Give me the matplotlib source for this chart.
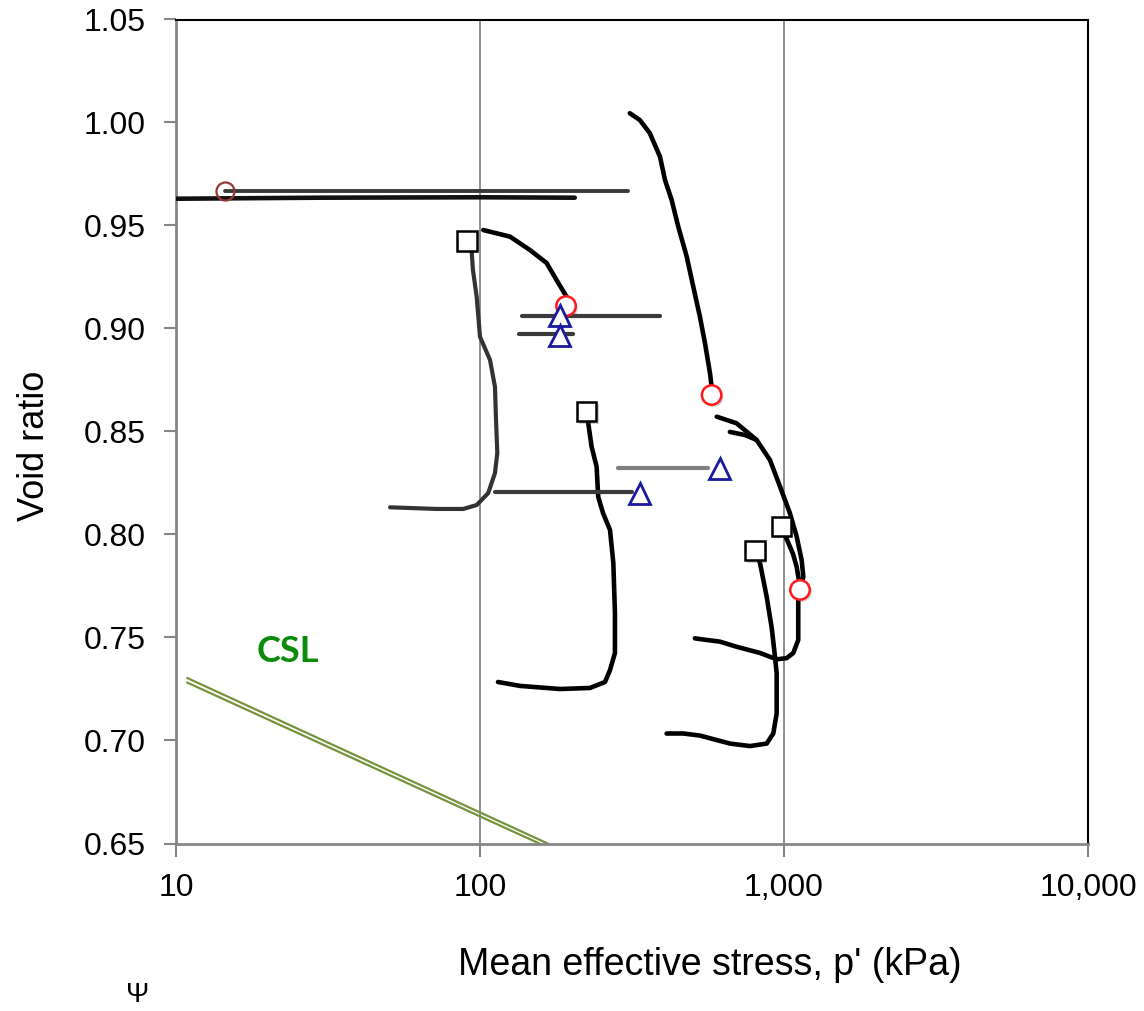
import numpy as np
import matplotlib
matplotlib.use("Agg")
import matplotlib.pyplot as plt
import matplotlib.patheffects as pe
from matplotlib.ticker import FixedLocator, FuncFormatter

plt.rcParams['font.family'] = ['Liberation Sans', 'DejaVu Sans']

# isotropic / drained tests, p' (kPa) vs void ratio
a1_p = [10, 30, 100, 205]
a1_e = [0.9630, 0.9635, 0.9637, 0.9635]
a2_p = [14.5, 307]
a2_e = [0.9667, 0.9667]

b_p = [90.6, 93.9, 94.8, 97.5, 100, 107.9, 112, 112.9, 114, 112, 106.4, 97.5, 88.1, 72.1, 50.6]
b_e = [0.9425, 0.9373, 0.9284, 0.9154, 0.896, 0.8847, 0.8717, 0.8556, 0.8396, 0.8298,
       0.8201, 0.8143, 0.8124, 0.8124, 0.8132]

c_p = [102.5, 125.5, 146, 165.6, 178.6, 192.7, 191.9]
c_e = [0.9478, 0.9446, 0.9381, 0.9318, 0.9235, 0.9154, 0.9109]

d_p = [224.4, 227, 232.9, 241.9, 244.8, 253.9, 267.7, 274.5, 277.9, 277.9, 267.7, 257.8,
       230, 183.3, 135.4, 114.6]
d_e = [0.8596, 0.8541, 0.8426, 0.8329, 0.8183, 0.8104, 0.8022, 0.7862, 0.7619, 0.7425,
       0.7342, 0.7284, 0.7255, 0.725, 0.7265, 0.7284]

e_p = [311, 335.6, 362, 390.9, 406, 427, 449, 478.6, 503, 529, 549.8, 571, 578, 578]
e_e = [1.0045, 1.0012, 0.9948, 0.9834, 0.9721, 0.9624, 0.9494, 0.9349, 0.9203, 0.9057,
       0.8928, 0.8782, 0.8717, 0.8677]

f1_p = [600.6, 698, 812.6, 899, 970.6, 1046, 1101, 1143, 1157.6, 1129, 1114, 1114, 1073,
        1020.7, 946, 833.6, 698.6, 615, 556.9, 509]
f1_e = [0.8572, 0.854, 0.8459, 0.8362, 0.8232, 0.8103, 0.7989, 0.7876, 0.7795, 0.7731,
        0.7682, 0.7488, 0.7425, 0.74, 0.7394, 0.7425, 0.7455, 0.748, 0.7488, 0.7496]
f2_p = [663.7, 744, 812.6]
f2_e = [0.8498, 0.8483, 0.8459]

g_p = [982.6, 1020.7, 1070.5, 1101, 1120]
g_e = [0.8038, 0.7978, 0.7906, 0.7842, 0.7777]

h_p = [803, 833.6, 877, 911, 934, 946, 946, 922, 877, 773, 664.5, 529, 466.6, 411]
h_e = [0.7921, 0.7862, 0.7698, 0.7547, 0.7407, 0.7325, 0.7131, 0.7034, 0.6985, 0.6973,
       0.6985, 0.7024, 0.7034, 0.7034]

# undrained stress paths (constant void ratio)
u1_p = [137, 390]
u1_e = [0.9062, 0.9062]
u2_p = [134.6, 202]
u2_e = [0.8973, 0.8973]
u3_p = [112, 316]
u3_e = [0.8206, 0.8206]
u4_p = [285, 563.6]
u4_e = [0.8321, 0.8321]

# markers
sq_p = [90.6, 224.4, 982.6, 803]
sq_e = [0.9425, 0.8596, 0.8038, 0.7921]
ci_p = [191.9, 578, 1129]
ci_e = [0.9109, 0.8677, 0.7731]
ci0_p = [14.5]
ci0_e = [0.9667]
tri_p = [183, 183, 335.6, 615]
tri_e = [0.9064, 0.8966, 0.82, 0.8321]

# critical state line (two bounds)
csl1_p = [10.9, 167]
csl1_e = [0.7303, 0.65]
csl2_p = [10.9, 156.7]
csl2_e = [0.7281, 0.65]

fig = plt.figure(figsize=(11.44, 10.11), dpi=100)
ax = fig.add_axes([176/1144, 1 - 843.5/1011, 912/1144, 824/1011])

grid_col = '#868686'
for xv in [100, 1000]:
    ax.axvline(xv, color=grid_col, lw=1.3, zorder=1)

ax.plot(csl1_p, csl1_e, color='#77933C', lw=1.6, zorder=2)
ax.plot(csl2_p, csl2_e, color='#77933C', lw=1.6, zorder=2)

ax.plot(a1_p, a1_e, color='#111111', lw=3.3, solid_capstyle='round', zorder=3)
ax.plot(a2_p, a2_e, color='#3a3a3a', lw=2.8, solid_capstyle='round', zorder=3)
ax.plot(b_p, b_e, color='#333333', lw=3, solid_capstyle='round', zorder=3)
for xs, ys in [(c_p, c_e), (d_p, d_e), (e_p, e_e), (f1_p, f1_e), (f2_p, f2_e),
               (g_p, g_e), (h_p, h_e)]:
    ax.plot(xs, ys, color='black', lw=3.3, solid_capstyle='round', zorder=3)

ax.plot(u1_p, u1_e, color='#3a3a3a', lw=3, solid_capstyle='round', zorder=3)
ax.plot(u2_p, u2_e, color='#3a3a3a', lw=3, solid_capstyle='round', zorder=3)
ax.plot(u3_p, u3_e, color='#3a3a3a', lw=3, solid_capstyle='round', zorder=3)
ax.plot(u4_p, u4_e, color='#7f7f7f', lw=3, solid_capstyle='round', zorder=3)

shadow = [pe.SimplePatchShadow(offset=(1.5, -1.5), alpha=0.25), pe.Normal()]
ax.plot(sq_p, sq_e, ls='none', marker='s', ms=14, mfc='white', mec='black', mew=1.8,
        zorder=5, path_effects=shadow)
ax.plot(ci_p, ci_e, ls='none', marker='o', ms=14, mfc='white', mec='#ff1a1a', mew=1.8,
        zorder=5, path_effects=shadow)
ax.plot(ci0_p, ci0_e, ls='none', marker='o', ms=13, mfc='none', mec='#953735', mew=1.6,
        zorder=5)
ax.plot(tri_p, tri_e, ls='none', marker='^', ms=15, mfc='white', mec='#1a1aa0', mew=2,
        zorder=5, path_effects=shadow)

ax.text(23.3, 0.743, 'CSL', color='#0b8a0b', fontsize=26, fontweight='bold',
        family=['Lato', 'DejaVu Sans'], ha='center', va='center')

ax.set_xscale('log')
ax.set_xlim(10, 10000)
ax.set_ylim(0.65, 1.05)
ax.xaxis.set_major_locator(FixedLocator([10, 100, 1000, 10000]))
ax.xaxis.set_minor_locator(FixedLocator([]))
ax.xaxis.set_major_formatter(FuncFormatter(lambda v, pos: '{:,.0f}'.format(v)))
ax.yaxis.set_major_locator(FixedLocator(np.arange(0.65, 1.0501, 0.05)))
ax.yaxis.set_major_formatter(FuncFormatter(lambda v, pos: '{:.2f}'.format(v)))
ax.tick_params(axis='both', direction='out', length=9, width=1.5, color=grid_col,
               labelsize=23, pad=13)
ax.tick_params(axis='x', pad=12)

for side in ['left', 'bottom']:
    ax.spines[side].set_color(grid_col)
    ax.spines[side].set_linewidth(2)
for side in ['top', 'right']:
    ax.spines[side].set_color('black')
    ax.spines[side].set_linewidth(1.5)

fig.text(35/1144, 1 - 446/1011, 'Void ratio', rotation=90, fontsize=26,
         ha='center', va='center')
fig.text(710/1144, 1 - 965/1011, "Mean effective stress, p' (kPa)", fontsize=27,
         ha='center', va='center')
fig.text(138/1144, 1 - 1008/1011, 'Ψ', fontsize=20, ha='center', va='bottom')

fig.savefig('out.png', dpi=100)
